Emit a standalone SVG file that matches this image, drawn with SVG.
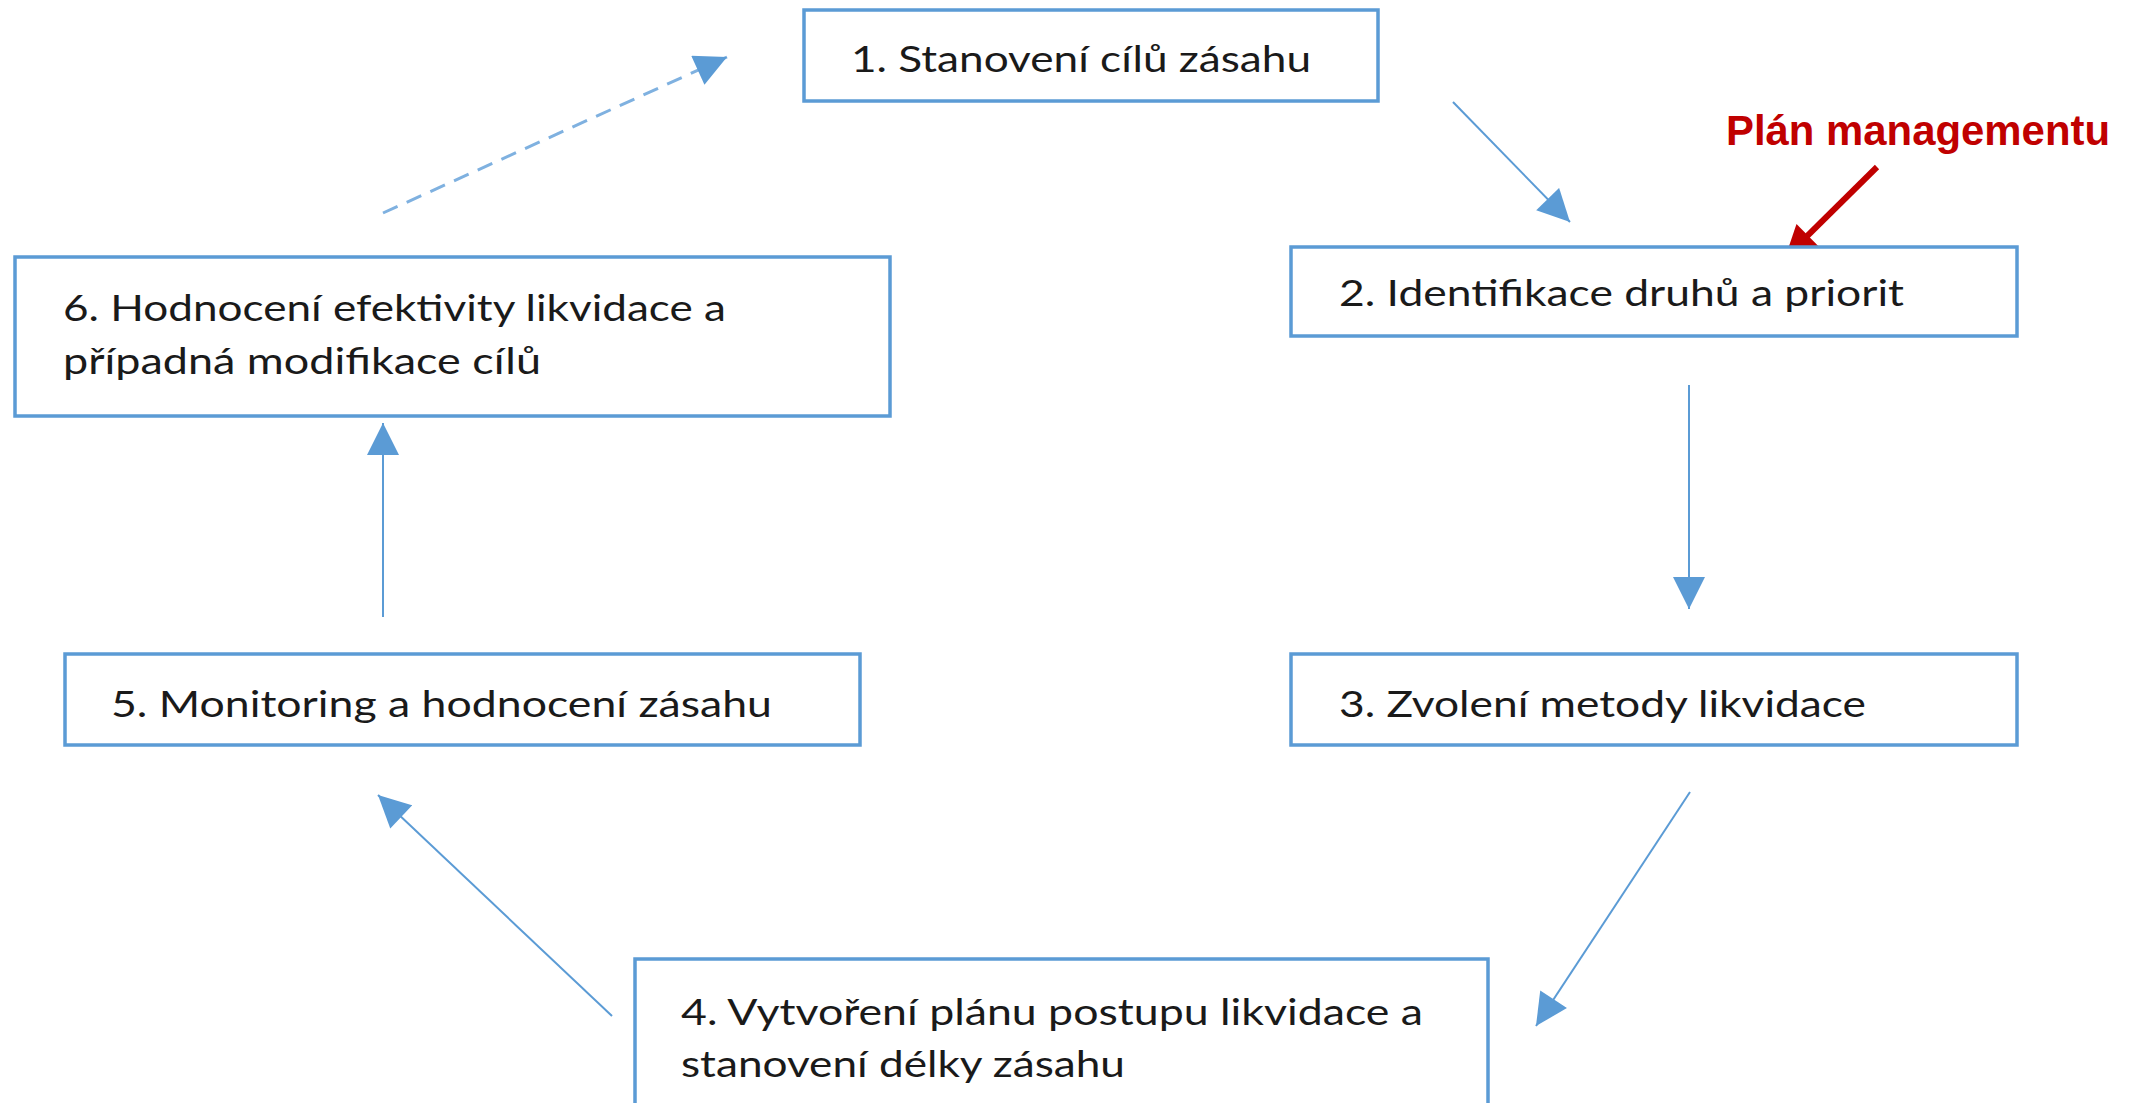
<svg xmlns="http://www.w3.org/2000/svg" width="2131" height="1103" viewBox="0 0 2131 1103">
  <style>
    .box { fill: #ffffff; stroke: #5B9BD5; stroke-width: 3.5; }
    .lbl { font-family: Lato, "Liberation Sans", "DejaVu Sans", sans-serif; font-size: 37px; fill: #1a1a1a; }
    .conn { stroke: #5B9BD5; stroke-width: 2; fill: none; }
    .dash { stroke: #7FB1E0; stroke-width: 3; fill: none; stroke-dasharray: 16 10; }
    .note { font-family: "Liberation Sans", Arial, sans-serif; font-size: 42px; font-weight: bold; fill: #C00000; }
  </style>
  <defs>
    <marker id="blueHead" viewBox="0 0 10 10" refX="10" refY="5" markerUnits="userSpaceOnUse" markerWidth="33" markerHeight="32" orient="auto">
      <path d="M0,0 L10,5 L0,10 z" fill="#5B9BD5"/>
    </marker>
    <marker id="redHead" viewBox="0 0 10 10" refX="10" refY="5" markerUnits="userSpaceOnUse" markerWidth="34" markerHeight="32" orient="auto">
      <path d="M0,0 L10,5 L0,10 z" fill="#C00000"/>
    </marker>
  </defs>
  <rect width="2131" height="1103" fill="#ffffff"/>

  <g id="connectors">
    <line class="conn" x1="1453" y1="102" x2="1570" y2="222" marker-end="url(#blueHead)"/>
    <line class="conn" x1="1689" y1="385" x2="1689" y2="609" marker-end="url(#blueHead)"/>
    <line class="conn" x1="1690" y1="792" x2="1536" y2="1026" marker-end="url(#blueHead)"/>
    <line class="conn" x1="612" y1="1016" x2="378" y2="795" marker-end="url(#blueHead)"/>
    <line class="conn" x1="383" y1="617" x2="383" y2="423" marker-end="url(#blueHead)"/>
    <line class="dash" x1="383" y1="213" x2="727" y2="57" marker-end="url(#blueHead)"/>
    <line stroke="#C00000" stroke-width="6" x1="1877" y1="167" x2="1785" y2="258" marker-end="url(#redHead)"/>
  </g>

  <g id="node1">
    <rect class="box" x="804" y="10" width="574" height="91"/>
    <text class="lbl" x="851" y="72" textLength="460" lengthAdjust="spacingAndGlyphs">1. Stanovení cílů zásahu</text>
  </g>
  <g id="node2">
    <rect class="box" x="1291" y="247" width="726" height="89"/>
    <text class="lbl" x="1339" y="306" textLength="565" lengthAdjust="spacingAndGlyphs">2. Identifikace druhů a priorit</text>
  </g>
  <g id="node3">
    <rect class="box" x="1291" y="654" width="726" height="91"/>
    <text class="lbl" x="1339" y="717" textLength="527" lengthAdjust="spacingAndGlyphs">3. Zvolení metody likvidace</text>
  </g>
  <g id="node4">
    <rect class="box" x="635" y="959" width="853" height="170"/>
    <text class="lbl" x="681" y="1025" textLength="742" lengthAdjust="spacingAndGlyphs">4. Vytvoření plánu postupu likvidace a</text>
    <text class="lbl" x="681" y="1077" textLength="444" lengthAdjust="spacingAndGlyphs">stanovení délky zásahu</text>
  </g>
  <g id="node5">
    <rect class="box" x="65" y="654" width="795" height="91"/>
    <text class="lbl" x="111" y="717" textLength="661" lengthAdjust="spacingAndGlyphs">5. Monitoring a hodnocení zásahu</text>
  </g>
  <g id="node6">
    <rect class="box" x="15" y="257" width="875" height="159"/>
    <text class="lbl" x="63" y="321" textLength="663" lengthAdjust="spacingAndGlyphs">6. Hodnocení efektivity likvidace a</text>
    <text class="lbl" x="63" y="374" textLength="478" lengthAdjust="spacingAndGlyphs">případná modifikace cílů</text>
  </g>
  <g id="annotation">
    <text class="note" x="1726" y="145" textLength="384" lengthAdjust="spacingAndGlyphs">Plán managementu</text>
  </g>
</svg>
